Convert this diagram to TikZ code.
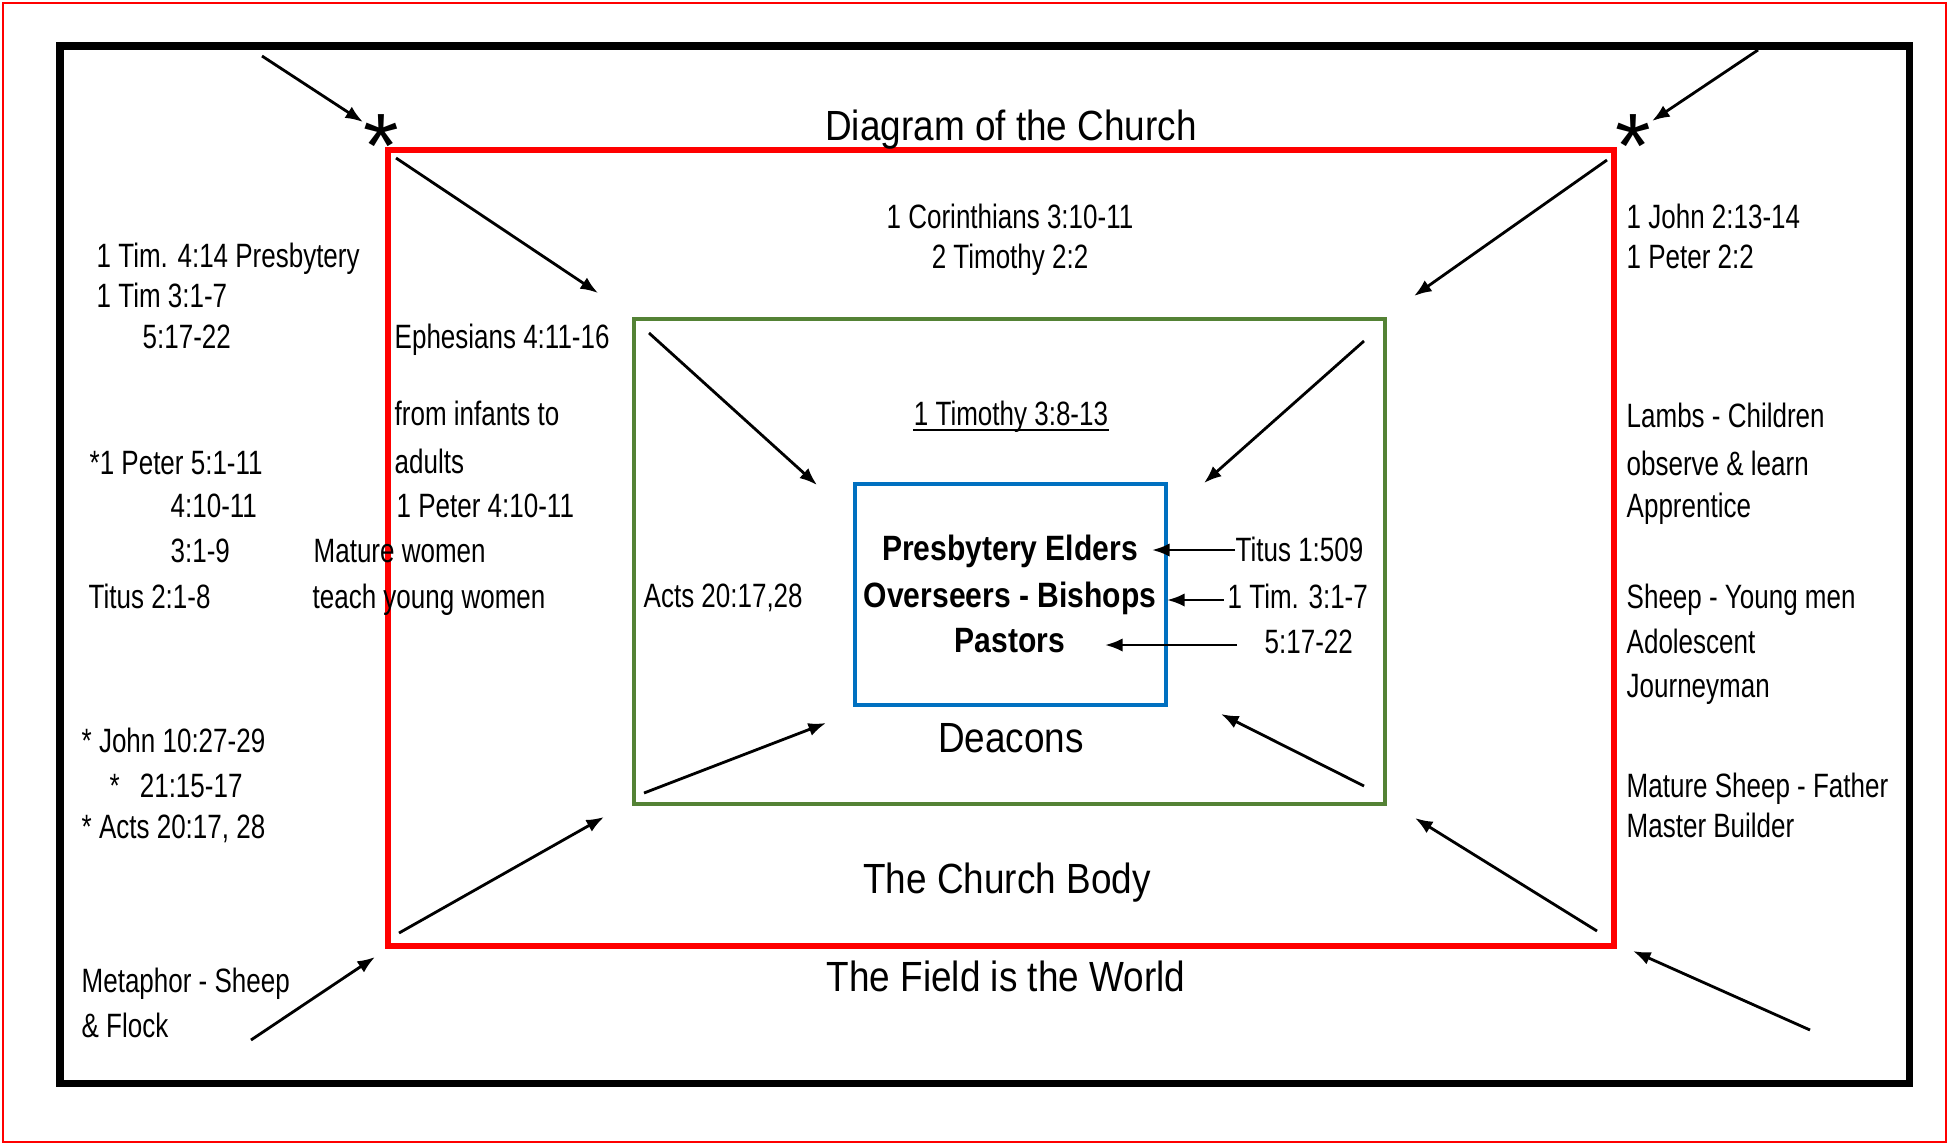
\documentclass[tikz,border=0pt]{standalone}
\usepackage{fontspec}
\setmainfont{Liberation Sans}
\newfontfamily\fnNarrow[FakeStretch=0.77]{Liberation Sans}
\newfontfamily\fnBig[FakeStretch=0.875]{Liberation Sans}
\newfontfamily\fnBold[FakeStretch=0.855]{Liberation Sans}
\newfontfamily\fnStar{Liberation Sans}
\usetikzlibrary{arrows.meta}
\definecolor{boxred}{RGB}{255,0,0}
\definecolor{boxgreen}{RGB}{84,130,53}
\definecolor{boxblue}{RGB}{0,112,192}
\begin{document}
\begin{tikzpicture}[x=0.01cm,y=-0.01cm,
  sm/.style={inner sep=0pt, font=\fnNarrow\fontsize{9.6}{11}\selectfont, anchor=base west},
  smc/.style={inner sep=0pt, font=\fnNarrow\fontsize{9.6}{11}\selectfont, anchor=base},
  big/.style={inner sep=0pt, font=\fnBig\fontsize{12}{14}\selectfont, anchor=base},
  bld/.style={inner sep=0pt, font=\fnBold\fontsize{10}{12}\selectfont\bfseries, anchor=base},
  starmark/.style={inner sep=0pt, font=\fnStar\fontsize{26}{28}\selectfont, anchor=base},
  arr/.style={line width=0.8pt, -{Latex[length=5pt,width=3.8pt]}},
  frame/.style={line width=0.6pt, draw=boxred},
]
\useasboundingbox (0,0) rectangle (1949,1145);
% frames
\draw[frame] (3,3) rectangle (1946,1142);
\draw[line width=2pt] (60,46) rectangle (1909,1083);
\draw[line width=1.6pt, boxred] (388,150) rectangle (1614,946);
\draw[line width=1.2pt, boxgreen] (634,319) rectangle (1385,804);
\draw[line width=1.2pt, boxblue] (855,484) rectangle (1166,705);

% stars
\node[starmark] (s1) at (381,177) {*};
\node[starmark] (s2) at (1633,177) {*};

% centred texts
\node[big] (title) at (1011,140) {Diagram of the Church};
\node[smc] (cor) at (1010,228) {1 Corinthians 3:10-11};
\node[smc] (tim22) at (1010,268) {2 Timothy 2:2};
\node[smc] (tim38) at (1011,425) {1 Timothy 3:8-13};
\draw[line width=0.5pt] ([yshift=-1.5pt]tim38.base west) -- ([yshift=-1.5pt]tim38.base east);
\node[bld] (pe) at (1010,560) {Presbytery Elders};
\node[bld] (ob) at (1010,607) {Overseers - Bishops};
\node[bld] (pa) at (1010,652) {Pastors};
\node[big] (deac) at (1011,752) {Deacons};
\node[big] (body) at (1007,893) {The Church Body};
\node[big] (field) at (1006,991) {The Field is the World};

% left column
\node[sm] (l1) at (96,267) {1 Tim. 4:14 Presbytery};
\node[sm] (l2) at (96,307) {1 Tim 3:1-7};
\node[sm] (l3) at (142,348) {5:17-22};
\node[sm] (l4) at (89,474) {*1 Peter 5:1-11};
\node[sm] (l5) at (170,517) {4:10-11};
\node[sm] (l6) at (170,562) {3:1-9};
\node[sm] (l7) at (88,608) {Titus 2:1-8};
\node[sm] (l8) at (81,752) {* John 10:27-29};
\node[sm] (l9) at (109,797) {*\hspace{5.7pt}21:15-17};
\node[sm] (l10) at (81,838) {* Acts 20:17, 28};
\node[sm] (l11) at (81,992) {Metaphor - Sheep};
\node[sm] (l12) at (81,1037) {\& Flock};

% middle-left
\node[sm] (m1) at (394,348) {Ephesians 4:11-16};
\node[sm] (m2) at (394,425) {from infants to};
\node[sm] (m3) at (394,473) {adults};
\node[sm] (m4) at (396,517) {1 Peter 4:10-11};
\node[sm] (m5) at (313,562) {Mature women};
\node[sm] (m6) at (312,608) {teach young women};
\node[sm] (m7) at (643,607) {Acts 20:17,28};

% right of blue box
\node[sm] (r1) at (1235,561) {Titus 1:509};
\node[sm] (r2) at (1227,608) {1 Tim. 3:1-7};
\node[sm] (r3) at (1264,653) {5:17-22};
\coordinate (h1) at (1152,550);
\coordinate (h2) at (1167,600);
\coordinate (h3) at (1105,645);
\coordinate (t3) at (1237,645);
\draw[arr] (r1.west |- h1) -- (h1);
\draw[arr] ([xshift=-1pt]r2.west |- h2) -- (h2);
\draw[arr] (t3) -- (h3);

% right column
\node[sm] (c1) at (1626,228) {1 John 2:13-14};
\node[sm] (c2) at (1626,268) {1 Peter 2:2};
\node[sm] (c3) at (1626,427) {Lambs - Children};
\node[sm] (c4) at (1626,475) {observe \& learn};
\node[sm] (c5) at (1626,517) {Apprentice};
\node[sm] (c6) at (1626,608) {Sheep - Young men};
\node[sm] (c7) at (1626,653) {Adolescent};
\node[sm] (c8) at (1626,697) {Journeyman};
\node[sm] (c9) at (1626,797) {Mature Sheep - Father};
\node[sm] (c10) at (1626,837) {Master Builder};

% diagonal arrows
\coordinate (a1s) at (262,56);   \coordinate (a1e) at (363,122);
\coordinate (a2s) at (1758,50);  \coordinate (a2e) at (1652,121);
\coordinate (a3s) at (396,158);  \coordinate (a3e) at (598,293);
\coordinate (a4s) at (1607,160); \coordinate (a4e) at (1414,296);
\coordinate (a5s) at (649,333);  \coordinate (a5e) at (817,485);
\coordinate (a6s) at (1364,341); \coordinate (a6e) at (1204,483);
\coordinate (a7s) at (644,793);  \coordinate (a7e) at (826,723);
\coordinate (a8s) at (1364,786); \coordinate (a8e) at (1221,714);
\coordinate (a9s) at (399,933);  \coordinate (a9e) at (604,817);
\coordinate (a10s) at (1597,931); \coordinate (a10e) at (1415,818);
\coordinate (a11s) at (251,1040); \coordinate (a11e) at (375,957);
\coordinate (a12s) at (1810,1030); \coordinate (a12e) at (1633,951);
\foreach \i in {1,...,12} {\draw[arr] (a\i s) -- (a\i e);}
\end{tikzpicture}
\end{document}
